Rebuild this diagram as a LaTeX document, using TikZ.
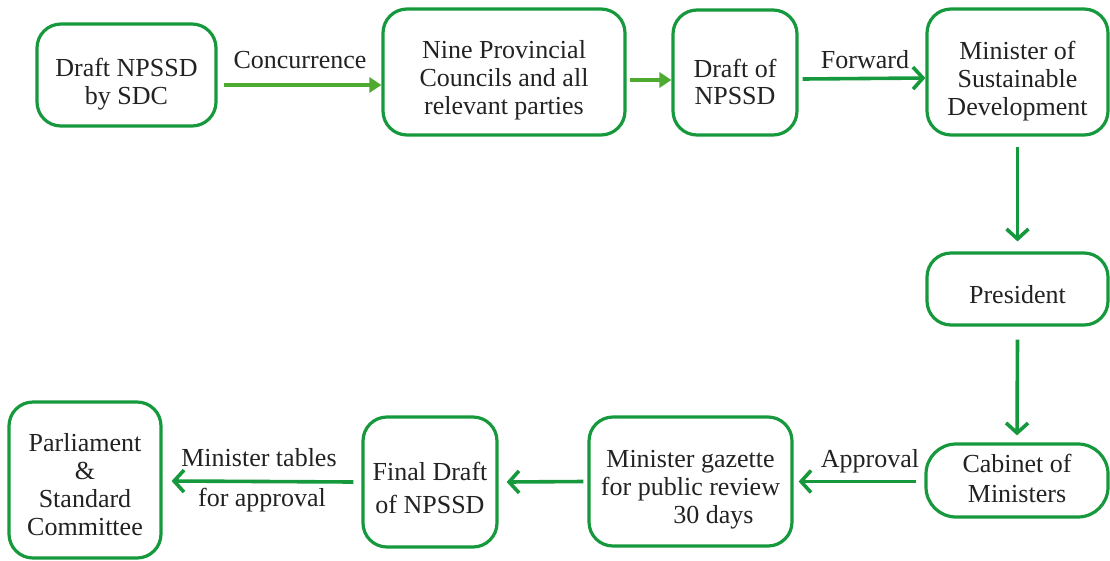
\documentclass[tikz,border=0pt]{standalone}
\usepackage{fontspec}
\setmainfont{Liberation Serif}
\usepackage{xcolor}
\usetikzlibrary{arrows.meta,positioning,calc}
\definecolor{boxgreen}{HTML}{16993C}
\definecolor{leafgreen}{HTML}{4FAA32}
\definecolor{inkgray}{HTML}{222222}

\begin{document}
\begin{tikzpicture}[x=1pt, y=-1pt,
    box/.style={draw=boxgreen, line width=3.2pt, rounded corners=24pt, inner sep=0pt},
    words/.style={align=center, text=inkgray, font=\fontsize{26}{28}\selectfont, inner sep=0pt},
    flow/.style={draw=boxgreen, line width=3.6pt, -{Straight Barb[length=10pt,width=22pt]}},
    feed/.style={draw=leafgreen, line width=3.6pt, -{Triangle[length=12pt,width=15pt]}},
    tag/.style={text=inkgray, font=\fontsize{26}{28}\selectfont, inner sep=0pt}]
    \useasboundingbox (0,0) rectangle (1110,560);

    \node[box, minimum width=179pt, minimum height=102pt,
        label={[words,yshift=-9pt]center:{Draft NPSSD\\by SDC}}] (sdc) at (126.5,75) {};
    \node[box, minimum width=242pt, minimum height=126pt,
        label={[words,yshift=-8pt]center:{Nine Provincial\\Councils and all\\relevant parties}}] (councils) at (504,72) {};
    \node[box, minimum width=124pt, minimum height=125pt,
        label={[words,font=\fontsize{26}{26.5}\selectfont,yshift=-9.5pt]center:{Draft of\\NPSSD}}] (draft) at (735,72.5) {};
    \node[box, minimum width=181pt, minimum height=126pt,
        label={[words,yshift=-9.5pt]center:{Minister of\\Sustainable\\Development}}] (minister) at (1017.5,72) {};
    \node[box, minimum width=181pt, minimum height=72pt,
        label={[words,yshift=-6pt]center:President}] (president) at (1017.5,289) {};
    \node[box, minimum width=182pt, minimum height=73pt, rounded corners=30pt,
        label={[words,font=\fontsize{26}{30}\selectfont,yshift=2pt]center:{Cabinet of\\Ministers}}] (cabinet) at (1017,480.5) {};
    \node[box, minimum width=203pt, minimum height=129pt,
        label={[words,yshift=-8pt]center:{Minister gazette\\for public review\\\hspace*{46pt}30 days}}] (gazette) at (690.5,481.5) {};
    \node[box, minimum width=134pt, minimum height=130pt,
        label={[words,font=\fontsize{26}{33}\selectfont,yshift=-6pt]center:{Final Draft\\of NPSSD}}] (final) at (430,482) {};
    \node[box, minimum width=152pt, minimum height=156pt,
        label={[words,yshift=-5pt]center:{Parliament\\\&\\Standard\\Committee}}] (parliament) at (85,480) {};

    % top row
    \draw[feed] ([xshift=6pt,yshift=-10pt]sdc.east) -- ([yshift=-13pt]councils.west);
    \draw[feed] ([xshift=3pt,yshift=-8pt]councils.east) -- ([yshift=-7.5pt]draft.west);
    \draw[flow] ([xshift=4pt,yshift=-6.5pt]draft.east) -- ([yshift=-6pt]minister.west);
    \node[tag] (concur) at (300,60) {Concurrence};
    \node[tag] (fwd) at (865,60) {Forward};

    % right column
    \draw[flow] ([yshift=-10pt]minister.south) -- ([yshift=10pt]president.north);
    \draw[flow] ([yshift=-13pt]president.south) -- ([yshift=7pt]cabinet.north);

    % bottom row
    \draw[flow] ([xshift=-8pt,yshift=-1pt]cabinet.west) -- ([xshift=5pt]gazette.east);
    \draw[flow] ([xshift=-4pt]gazette.west) -- ([xshift=8pt]final.east);
    \draw[flow] ([xshift=-8pt]final.west) -- ([xshift=9pt,yshift=-1pt]parliament.east);
    \node[tag] (approval) at (870,461) {Approval};
    \node[tag] (tables) at (259,458) {Minister tables};
    \node[tag] (forappr) at (262,500) {for approval};
\end{tikzpicture}
\end{document}
